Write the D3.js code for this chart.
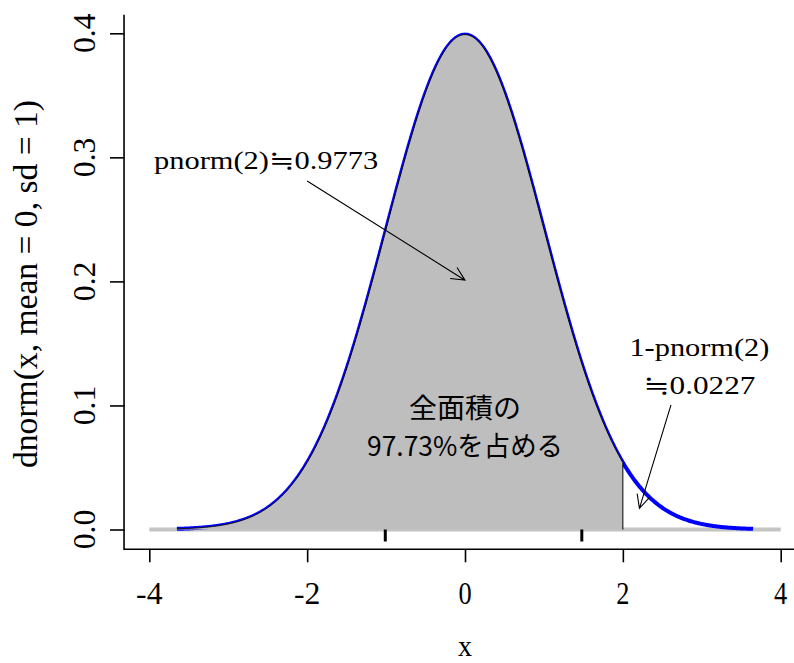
<!DOCTYPE html>
<html>
<head>
<meta charset="utf-8">
<script src="https://cdn.jsdelivr.net/npm/d3@7"></script>
<style>
  html, body { margin: 0; padding: 0; background: #fff; }
  svg { display: block; }
</style>
</head>
<body>
<svg id="chart" width="794" height="663"></svg>
<script>
// Normal density N(0, 1), shaded up to x = 2
const distMean = [0];
const distSd = [1];
const curveRange = [-3.65, 3.65];
const shadeUpper = [2];
const rugValues = [-1.01, 1.48];

const xTicks = [-4, -2, 0, 2, 4];
const xTickLabels = ["-4", "-2", "0", "2", "4"];
const yTicks = [0, 0.1, 0.2, 0.3, 0.4];
const yTickLabels = ["0.0", "0.1", "0.2", "0.3", "0.4"];

const xTitle = ["x"];
const yTitle = ["dnorm(x, mean = 0, sd = 1)"];

// Text annotations (centre in data units) and arrows
const notes = [
  { x: -2.52, y: 0.296, lines: ["pnorm(2)≒0.9773"], font: "serif" },
  { x: 2.97, y: 0.13, lines: ["1-pnorm(2)", "≒0.0227"], font: "serif" },
  { x: 0, y: 0.08, lines: ["全面積の", "97.73%を占める"], font: "cjk" }
];
const arrowFrom = [[-2.0, 0.281], [2.61, 0.1004]];
const arrowTo = [[0.0, 0.201], [2.21, 0.017]];

const svg = d3.select("#chart");
const x = d3.scaleLinear().domain([-4, 4]).range([149.3, 780.7]);
const y = d3.scaleLinear().domain([0, 0.4]).range([529.5, 33.3]);

// R-style plot region: data range widened by 4% on each side
const xDom = [-4, 4], yDom = [0, 0.3989];
const xPad = (xDom[1] - xDom[0]) * 0.04, yPad = (yDom[1] - yDom[0]) * 0.04;
const plotLeft = x(xDom[0] - xPad), plotRight = x(xDom[1] + xPad);
const plotBottom = y(yDom[0] - yPad), plotTop = y(yDom[1] + yPad);

const dnorm = v => Math.exp(-0.5 * ((v - distMean[0]) / distSd[0]) ** 2) / (distSd[0] * Math.sqrt(2 * Math.PI));
const grid = d3.range(curveRange[0], curveRange[1] + 1e-9, 0.01);
const pts = grid.map(v => [v, dnorm(v)]);
const shadePts = pts.filter(p => p[0] <= shadeUpper[0] + 1e-9);
shadePts.push([shadeUpper[0], dnorm(shadeUpper[0])]);

const line = d3.line().x(d => x(d[0])).y(d => y(d[1]));

// Width in half-width units (full-width glyphs count double)
const units = s => Array.from(s).reduce((n, c) => n + (c.codePointAt(0) > 0x2000 ? 2 : 1), 0);
const serifFont = "'Liberation Serif', 'DejaVu Serif', 'Noto Sans CJK JP', serif";
const cjkFont = "'Noto Sans CJK JP', sans-serif";

function putText(g, str, px, py, opt) {
  const t = g.append("text")
    .attr("x", px).attr("y", py)
    .attr("text-anchor", "middle")
    .attr("font-family", opt.family)
    .attr("font-size", opt.size)
    .attr("fill", "#000")
    .attr("textLength", units(str) * opt.unit)
    .attr("lengthAdjust", "spacingAndGlyphs")
    .text(str);
  if (opt.rotate) t.attr("transform", `rotate(-90 ${px} ${py})`);
  return t;
}

// zero reference line
svg.append("line")
  .attr("x1", x(-4)).attr("x2", x(4))
  .attr("y1", y(0)).attr("y2", y(0))
  .attr("stroke", "#c4c4c4").attr("stroke-width", 4);

// density curve
svg.append("path").datum(pts)
  .attr("d", line)
  .attr("fill", "none").attr("stroke", "#0000ff").attr("stroke-width", 4);

// shaded lower tail up to x = 2
const area = d3.area().x(d => x(d[0])).y0(y(0)).y1(d => y(d[1]));
svg.append("path").datum(shadePts)
  .attr("d", area)
  .attr("fill", "#bebebe").attr("stroke", "none");
svg.append("path")
  .datum(shadePts.concat([[shadeUpper[0], 0]]))
  .attr("d", line)
  .attr("fill", "none").attr("stroke", "#000").attr("stroke-width", 1);

// rug marks
svg.selectAll("line.rug").data(rugValues).join("line")
  .attr("class", "rug")
  .attr("x1", d => x(d)).attr("x2", d => x(d))
  .attr("y1", y(0)).attr("y2", y(0) + 12)
  .attr("stroke", "#000").attr("stroke-width", 3);

// frame (left and bottom)
svg.append("path")
  .attr("d", `M${plotLeft},${plotTop}V${plotBottom}H${plotRight}`)
  .attr("fill", "none").attr("stroke", "#000").attr("stroke-width", 1.6);

// axes
const gx = svg.append("g").attr("transform", `translate(0,${plotBottom})`)
  .call(d3.axisBottom(x).tickValues(xTicks).tickSize(13).tickFormat(""));
const gy = svg.append("g").attr("transform", `translate(${plotLeft},0)`)
  .call(d3.axisLeft(y).tickValues(yTicks).tickSize(14).tickFormat(""));
[gx, gy].forEach(g => {
  g.select(".domain").remove();
  g.selectAll(".tick line").attr("stroke", "#000").attr("stroke-width", 1.6);
});

const axisOpt = { family: serifFont, size: 32, unit: 13.2 };
xTicks.forEach((v, i) => putText(svg, xTickLabels[i], x(v), 603.5, axisOpt));
yTicks.forEach((v, i) => putText(svg, yTickLabels[i], 95, y(v), Object.assign({ rotate: true }, axisOpt)));

putText(svg, xTitle[0], x(0), 656, { family: serifFont, size: 30, unit: 14 });
putText(svg, yTitle[0], 36.7, 284, { family: serifFont, size: 33, unit: 14.15, rotate: true });

// annotations
notes.forEach(n => {
  const opt = n.font === "cjk"
    ? { family: cjkFont, size: 27, unit: 14 }
    : { family: serifFont, size: 25, unit: 14 };
  n.lines.forEach((s, i) => {
    const py = y(n.y) + 6.5 + (i - (n.lines.length - 1) / 2) * 38;
    putText(svg, s, x(n.x), py, opt);
  });
});

// arrows with open heads
arrowFrom.forEach((f, i) => {
  const t = arrowTo[i];
  const x0 = x(f[0]), y0 = y(f[1]), x1 = x(t[0]), y1 = y(t[1]);
  const ang = Math.atan2(y1 - y0, x1 - x0);
  const L = 15, a = Math.PI / 7;
  const h1 = [x1 - L * Math.cos(ang - a), y1 - L * Math.sin(ang - a)];
  const h2 = [x1 - L * Math.cos(ang + a), y1 - L * Math.sin(ang + a)];
  svg.append("path")
    .attr("d", `M${x0},${y0}L${x1},${y1}M${h1[0]},${h1[1]}L${x1},${y1}L${h2[0]},${h2[1]}`)
    .attr("fill", "none").attr("stroke", "#000").attr("stroke-width", 1.1);
});
</script>
</body>
</html>
